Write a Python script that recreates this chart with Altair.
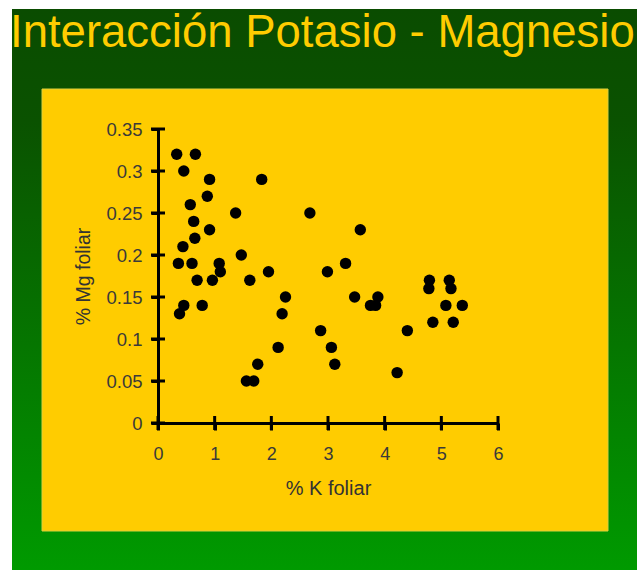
import altair as alt
import pandas as pd

k_foliar = [0.33, 0.66, 0.455, 0.91, 1.83, 0.87, 0.57, 1.37, 2.68, 0.63, 0.91, 3.57,
            0.65, 0.44, 1.47, 0.36, 0.60, 1.08, 3.31, 1.10, 1.95, 2.99, 0.69, 0.96,
            1.62, 2.25, 3.47, 3.88, 3.75, 3.84, 0.455, 0.78, 0.38, 2.19, 2.87, 4.40,
            2.12, 3.06, 3.12, 1.76, 1.56, 1.69, 4.22, 4.79, 4.78, 5.14, 5.17, 5.08,
            5.37, 4.85, 5.21]
mg_foliar = [0.32, 0.32, 0.30, 0.29, 0.29, 0.27, 0.26, 0.25, 0.25, 0.24, 0.23, 0.23,
             0.22, 0.21, 0.20, 0.19, 0.19, 0.19, 0.19, 0.18, 0.18, 0.18, 0.17, 0.17,
             0.17, 0.15, 0.15, 0.15, 0.14, 0.14, 0.14, 0.14, 0.13, 0.13, 0.11, 0.11,
             0.09, 0.09, 0.07, 0.07, 0.05, 0.05, 0.06, 0.17, 0.16, 0.17, 0.16, 0.14,
             0.14, 0.12, 0.12]
x_ticks = [0, 1, 2, 3, 4, 5, 6]
y_ticks = [0, 0.05, 0.1, 0.15, 0.2, 0.25, 0.3, 0.35]
title_text = "Interacción Potasio - Magnesio"

FONT = "Liberation Sans, Arial, sans-serif"
df = pd.DataFrame({"k": k_foliar, "mg": mg_foliar})
one = pd.DataFrame({"t": [title_text]})

xs = alt.Scale(domain=[0, 6], nice=False, zero=True)
ys = alt.Scale(domain=[0, 0.35], nice=False, zero=True)

green = alt.Chart(one).mark_rect(
    fill=alt.Gradient(
        gradient="linear", x1=0, x2=0, y1=0, y2=1,
        stops=[alt.GradientStop(color="#0a4c00", offset=0),
               alt.GradientStop(color="#0a5200", offset=0.2),
               alt.GradientStop(color="#009a00", offset=1)]),
).encode(x=alt.value(-146), x2=alt.value(479), y=alt.value(-120), y2=alt.value(441))

panel = alt.Chart(one).mark_rect(fill="#FFCC00", stroke="#d9cf40", strokeWidth=1).encode(
    x=alt.value(-116), x2=alt.value(450), y=alt.value(-40), y2=alt.value(402))

title = alt.Chart(one).mark_text(
    align="left", baseline="alphabetic", fontSize=45.5, font=FONT, color="#FFCC00"
).encode(text="t:N", x=alt.value(-148), y=alt.value(-82))

points = alt.Chart(df).mark_circle(size=130, color="#000000", opacity=1).encode(
    x=alt.X("k:Q", scale=xs, title="% K foliar",
            axis=alt.Axis(values=x_ticks, format="d", grid=False, domainColor="#000",
                          domainWidth=3, tickColor="#000", tickWidth=3, tickSize=7,
                          labelPadding=15, titlePadding=15, labelFontSize=18,
                          titleFontSize=20, labelFlush=False, zindex=1)),
    y=alt.Y("mg:Q", scale=ys, title="% Mg foliar",
            axis=alt.Axis(values=y_ticks, format="~g", grid=False, domainColor="#000",
                          domainWidth=3, tickColor="#000", tickWidth=3, tickSize=7,
                          labelPadding=9, titlePadding=12, labelFontSize=18.5,
                          titleFontSize=19.5, labelFlush=False, zindex=1)),
)

xt = alt.Chart(pd.DataFrame({"v": x_ticks})).mark_tick(
    orient="vertical", size=14, thickness=3, color="#000", opacity=1
).encode(x=alt.X("v:Q", scale=xs), y=alt.value(294))

yt = alt.Chart(pd.DataFrame({"v": y_ticks})).mark_tick(
    orient="horizontal", size=14, thickness=3, color="#000", opacity=1
).encode(y=alt.Y("v:Q", scale=ys), x=alt.value(0))

chart = alt.layer(green, panel, title, xt, yt, points).properties(
    width=340, height=294,
    autosize=alt.AutoSizeParams(type="none"),
    padding={"left": 158, "top": 129, "right": 139, "bottom": 147},
    background="#ffffff",
).configure_view(stroke=None).configure_axis(
    labelFont=FONT, titleFont=FONT, labelColor="#3a3a3a", titleColor="#333333",
    titleFontWeight="normal",
)

chart.save("out.html", embed_options={"renderer": "svg", "actions": False})
